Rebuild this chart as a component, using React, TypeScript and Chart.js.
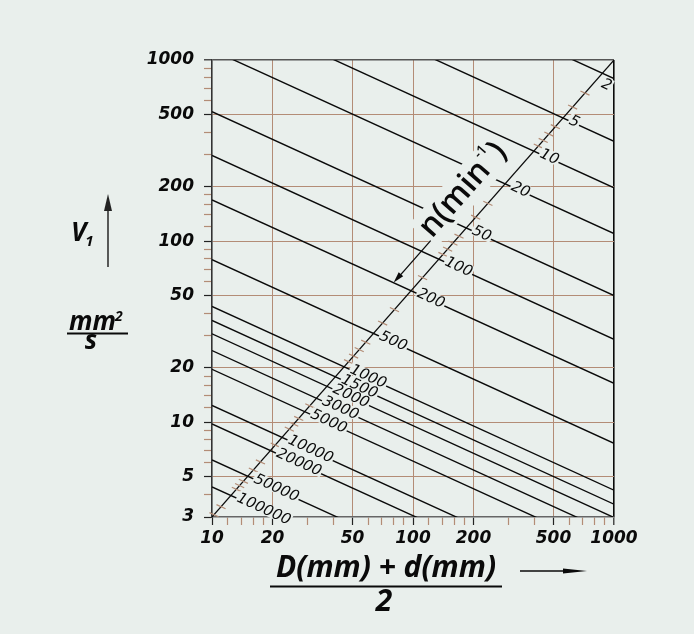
import React, { useEffect, useRef } from "react";
import { Chart, registerables } from "chart.js";

Chart.register(...registerables);

// ---- data ----
// rotational speed n (min^-1) of each reference line
const speedLabels = ["2", "5", "10", "20", "50", "100", "200", "500", "1000", "1500", "2000", "3000", "5000", "10000", "20000", "50000", "100000"];
// viscosity v1 (mm2/s) of each line at dm = 10 mm and at dm = 1000 mm
const nuAtDm10 = [8160, 3680, 2040, 1136, 518, 297, 169, 79, 43.6, 36.5, 30.8, 24.9, 19.6, 12.4, 9.8, 6.2, 4.4];
const nuAtDm1000 = [790, 356, 197, 110, 50.1, 28.7, 16.4, 7.66, 4.22, 3.53, 2.98, 2.41, 1.9, 1.2, 0.95, 0.6, 0.43];
// minor tick marks on the diagonal n scale
const speedMinorTicks = [3, 4, 6, 7, 8, 9, 30, 40, 60, 70, 80, 90, 150, 300, 400, 600, 700, 800, 900, 4000, 6000, 7000, 8000, 15000, 30000, 40000, 60000, 70000, 80000, 150000, 200000];
// diagonal n axis runs corner to corner
const diagDm = [10, 1000];
const diagNu = [3, 1000];

// axis ticks
const xMajorTicks = [10, 20, 50, 100, 200, 500, 1000];
const yMajorTicks = [3, 5, 10, 20, 50, 100, 200, 500, 1000];
const axisMinorTicks = [12, 14, 16, 18, 30, 40, 60, 70, 80, 90, 120, 140, 160, 180, 300, 400, 600, 700, 800, 900];
const yExtraMinorTicks = [4, 6, 7, 8, 9];
const xGridValues = [20, 50, 100, 200, 500];
const yGridValues = [5, 10, 20, 50, 100, 200, 500];

// ---- style ----
const BG = "#e9efec";
const BROWN = "#b38c76";
const INK = "#0a0a0a";

const speedValues = speedLabels.map(Number);

const decorPlugin = {
  id: "decor",
  afterDraw(chart: any) {
    const { ctx, scales } = chart;
    const xs = scales.x;
    const ys = scales.y;
    const A = { x: xs.getPixelForValue(diagDm[0]), y: ys.getPixelForValue(diagNu[0]) };
    const B = { x: xs.getPixelForValue(diagDm[1]), y: ys.getPixelForValue(diagNu[1]) };
    const dx = B.x - A.x;
    const dy = B.y - A.y;
    const dlen = Math.hypot(dx, dy);

    // intersections of each line with the diagonal
    const inter = speedValues.map((_, i) => {
      const p1 = { x: xs.getPixelForValue(10), y: ys.getPixelForValue(nuAtDm10[i]) };
      const p2 = { x: xs.getPixelForValue(1000), y: ys.getPixelForValue(nuAtDm1000[i]) };
      const ex = p2.x - p1.x;
      const ey = p2.y - p1.y;
      const den = dx * ey - dy * ex;
      const t = ((p1.x - A.x) * ey - (p1.y - A.y) * ex) / den;
      return { t, angle: Math.atan2(ey, ex) };
    });

    ctx.save();
    // minor ticks on diagonal
    ctx.strokeStyle = BROWN;
    ctx.lineWidth = 1.2;
    const lineAngle = inter[8].angle;
    const lx = Math.cos(lineAngle);
    const ly = Math.sin(lineAngle);
    speedMinorTicks.forEach((n) => {
      let i = 0;
      while (i < speedValues.length - 2 && speedValues[i + 1] < n) i++;
      const n0 = speedValues[i];
      const n1 = speedValues[i + 1];
      const t = inter[i].t + (inter[i + 1].t - inter[i].t) * (Math.log(n) - Math.log(n0)) / (Math.log(n1) - Math.log(n0));
      const px = A.x + t * dx;
      const py = A.y + t * dy;
      ctx.beginPath();
      ctx.moveTo(px - lx * 5, py - ly * 5);
      ctx.lineTo(px + lx * 5, py + ly * 5);
      ctx.stroke();
    });

    // line labels
    ctx.font = "italic 15px 'DejaVu Sans'";
    ctx.textBaseline = "alphabetic";
    ctx.textAlign = "left";
    const labelPos = speedLabels.map((lab, i) => {
      const a = inter[i].angle;
      const L = { x: Math.cos(a), y: Math.sin(a) };
      const N = { x: -Math.sin(a), y: Math.cos(a) };
      const along = lab === "2" ? 4 : 7;
      const perp = lab === "2" ? 13 : 3;
      const px = A.x + inter[i].t * dx + L.x * along + N.x * perp;
      const py = A.y + inter[i].t * dy + L.y * along + N.y * perp;
      return { px, py, a };
    });
    labelPos.forEach((p, i) => {
      ctx.save();
      ctx.translate(p.px, p.py);
      ctx.rotate(p.a);
      const w = ctx.measureText(speedLabels[i]).width;
      ctx.fillStyle = BG;
      ctx.fillRect(-1, -11, w + 2, 12);
      ctx.restore();
    });
    ctx.fillStyle = INK;
    labelPos.forEach((p, i) => {
      ctx.save();
      ctx.translate(p.px, p.py);
      ctx.rotate(p.a);
      ctx.fillText(speedLabels[i], 0, 0);
      ctx.restore();
    });

    // n(min-1) label along the diagonal
    const f0 = 0.5816;
    let nnx = dy / dlen;
    let nny = -dx / dlen;
    if (nnx > 0) {
      nnx = -nnx;
      nny = -nny;
    }
    const B0 = { x: A.x + f0 * dx + nnx * 18.4, y: A.y + f0 * dy + nny * 18.4 };
    const ang = Math.atan2(dy, dx);
    ctx.save();
    ctx.translate(B0.x, B0.y);
    ctx.rotate(ang);
    const big = "600 32px 'Open Sans'";
    const small = "600 14px 'Open Sans'";
    ctx.font = big;
    const w1 = ctx.measureText("n(min").width;
    ctx.font = small;
    const w2 = ctx.measureText("-1").width;
    ctx.font = big;
    const w3 = ctx.measureText(")").width;
    ctx.fillStyle = BG;
    ctx.fillRect(-4, -27, w1 + w2 + w3 + 8, 36);
    ctx.fillStyle = INK;
    ctx.fillText("n(min", 0, 0);
    ctx.font = small;
    ctx.fillText("-1", w1 + 1, -17);
    ctx.font = big;
    ctx.fillText(")", w1 + w2 + 2, 0);
    // arrow pointing down-left along the diagonal
    ctx.strokeStyle = INK;
    ctx.lineWidth = 1.3;
    ctx.beginPath();
    ctx.moveTo(-2, 0);
    ctx.lineTo(-50, 0);
    ctx.stroke();
    ctx.beginPath();
    ctx.moveTo(-58, 0);
    ctx.lineTo(-47, -3);
    ctx.lineTo(-47, 3);
    ctx.closePath();
    ctx.fill();
    ctx.restore();

    // y axis title
    ctx.fillStyle = INK;
    ctx.textAlign = "left";
    ctx.font = "italic 700 26px 'Open Sans'";
    ctx.fillText("V", 71, 241);
    const wV = ctx.measureText("V").width;
    ctx.font = "italic 700 15px 'Open Sans'";
    ctx.fillText("1", 71 + wV - 1, 246);
    ctx.strokeStyle = "#333";
    ctx.fillStyle = "#222";
    ctx.lineWidth = 1.6;
    ctx.beginPath();
    ctx.moveTo(108, 267);
    ctx.lineTo(108, 205);
    ctx.stroke();
    ctx.beginPath();
    ctx.moveTo(108, 194);
    ctx.lineTo(104, 211);
    ctx.lineTo(112, 211);
    ctx.closePath();
    ctx.fill();
    ctx.fillStyle = INK;
    ctx.font = "italic 700 26px 'Open Sans'";
    ctx.fillText("mm", 69, 330);
    const wmm = ctx.measureText("mm").width;
    ctx.font = "italic 700 14px 'Open Sans'";
    ctx.fillText("2", 69 + wmm - 1, 321);
    ctx.lineWidth = 2;
    ctx.strokeStyle = INK;
    ctx.beginPath();
    ctx.moveTo(67, 333.5);
    ctx.lineTo(128, 333.5);
    ctx.stroke();
    ctx.font = "italic 700 26px 'Open Sans'";
    ctx.textAlign = "center";
    ctx.fillText("s", 91, 349);

    // x axis title
    ctx.font = "italic 700 30px 'Open Sans'";
    ctx.fillText("D(mm) + d(mm)", 386, 577);
    ctx.beginPath();
    ctx.moveTo(270, 586.5);
    ctx.lineTo(502, 586.5);
    ctx.stroke();
    ctx.fillText("2", 384, 611);
    ctx.lineWidth = 1.4;
    ctx.beginPath();
    ctx.moveTo(520, 571);
    ctx.lineTo(575, 571);
    ctx.stroke();
    ctx.beginPath();
    ctx.moveTo(587, 571);
    ctx.lineTo(563, 568.5);
    ctx.lineTo(563, 573.5);
    ctx.closePath();
    ctx.fill();
    ctx.restore();
  },
};

export default function App() {
  const ref = useRef<HTMLCanvasElement>(null);
  useEffect(() => {
    document.body.style.margin = "0";
    document.body.style.background = BG;
    const canvas = ref.current!;
    const lineSets = speedLabels.map((lab, i) => ({
      label: lab,
      data: [
        { x: 10, y: nuAtDm10[i] },
        { x: 1000, y: nuAtDm1000[i] },
      ],
      borderColor: INK,
      borderWidth: 1.4,
      pointRadius: 0,
      fill: false,
      tension: 0,
    }));
    const diagSet = {
      label: "n",
      data: [
        { x: diagDm[0], y: diagNu[0] },
        { x: diagDm[1], y: diagNu[1] },
      ],
      borderColor: INK,
      borderWidth: 1.2,
      pointRadius: 0,
      fill: false,
      tension: 0,
    };
    const xTicks = [...xMajorTicks, ...axisMinorTicks].sort((a, b) => a - b);
    const yTicks = [...yMajorTicks, ...yExtraMinorTicks, ...axisMinorTicks].sort((a, b) => a - b);
    const tickFont = { family: "'DejaVu Sans'", size: 17, weight: "bold" as const, style: "italic" as const };
    const chart = new Chart(canvas, {
      type: "line",
      data: { datasets: [...lineSets, diagSet] as any },
      options: {
        animation: false,
        responsive: false,
        devicePixelRatio: 1,
        layout: { padding: { top: 60, right: 80, bottom: 0, left: 0 } },
        plugins: { legend: { display: false }, tooltip: { enabled: false } },
        scales: {
          x: {
            type: "logarithmic",
            min: 10,
            max: 1000,
            afterBuildTicks: (scale: any) => {
              scale.ticks = xTicks.map((v) => ({ value: v }));
            },
            afterFit: (scale: any) => {
              scale.height = 117;
            },
            ticks: {
              autoSkip: false,
              maxRotation: 0,
              padding: 3,
              color: INK,
              font: tickFont,
              callback: (v: any) => (xMajorTicks.includes(Number(v)) ? String(v) : ""),
            },
            grid: {
              color: (c: any) => {
                const v = c.tick ? c.tick.value : 0;
                if (v === 1000) return INK;
                return xGridValues.includes(v) ? BROWN : "rgba(0,0,0,0)";
              },
              tickColor: (c: any) => {
                const v = c.tick ? c.tick.value : 0;
                return xMajorTicks.includes(v) ? "#222" : BROWN;
              },
              lineWidth: (c: any) => (c.tick && c.tick.value === 1000 ? 1.6 : 1),
              tickWidth: 1.2,
              tickLength: 8,
            },
            border: { display: true, color: "#666", width: 1.6 },
          },
          y: {
            type: "logarithmic",
            min: 3,
            max: 1000,
            afterBuildTicks: (scale: any) => {
              scale.ticks = yTicks.map((v) => ({ value: v }));
            },
            afterFit: (scale: any) => {
              scale.width = 212;
            },
            ticks: {
              autoSkip: false,
              padding: 10,
              color: INK,
              font: tickFont,
              callback: (v: any) => (yMajorTicks.includes(Number(v)) ? String(v) : ""),
            },
            grid: {
              color: (c: any) => {
                const v = c.tick ? c.tick.value : 0;
                if (v === 1000) return "#555";
                return yGridValues.includes(v) ? BROWN : "rgba(0,0,0,0)";
              },
              tickColor: (c: any) => {
                const v = c.tick ? c.tick.value : 0;
                return yMajorTicks.includes(v) ? "#222" : BROWN;
              },
              lineWidth: (c: any) => (c.tick && c.tick.value === 1000 ? 1.6 : 1),
              tickWidth: 1.2,
              tickLength: 8,
            },
            border: { display: true, color: "#333", width: 1.6 },
          },
        },
      },
      plugins: [decorPlugin as any],
    });
    return () => chart.destroy();
  }, []);
  return (
    <div style={{ width: 694, height: 634, background: BG }}>
      <canvas ref={ref} width={694} height={634} style={{ display: "block" }} />
    </div>
  );
}
